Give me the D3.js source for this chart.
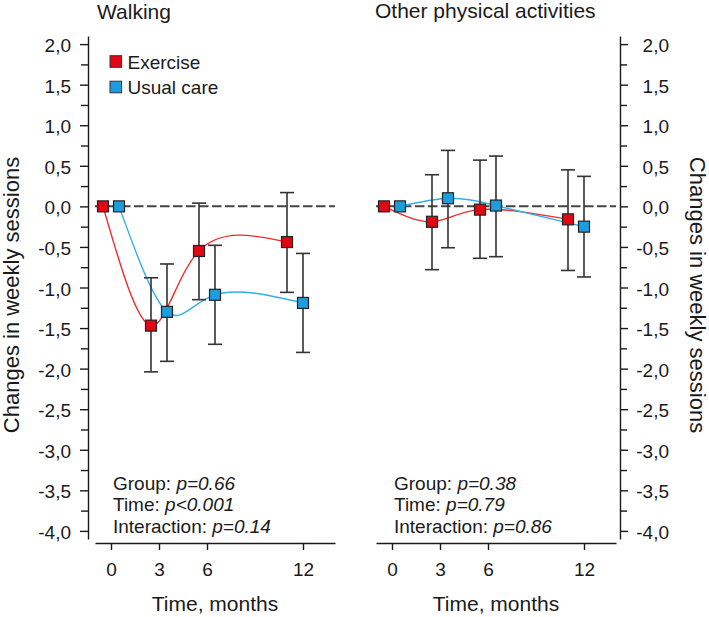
<!DOCTYPE html>
<html>
<head>
<meta charset="utf-8">
<script src="https://cdn.jsdelivr.net/npm/d3@7"></script>
<style>
  html, body { margin: 0; padding: 0; background: #fff; }
  svg { display: block; font-family: "Liberation Sans", Arial, sans-serif; }
</style>
</head>
<body>
<div id="chart"></div>
<script>
// ---------------- data ----------------
const monthTicks = [0, 3, 6, 12];
const exerciseTime = [-0.5, 2.5, 5.5, 11];   // plotted (dodged) time, months
const usualTime = [0.5, 3.5, 6.5, 12];

const walkingExercise   = [0, -1.47, -0.55, -0.44];
const walkingExerciseLo = [null, -2.04, -1.15, -1.06];
const walkingExerciseHi = [null, -0.88, 0.04, 0.17];
const walkingUsual      = [0, -1.30, -1.09, -1.19];
const walkingUsualLo    = [null, -1.91, -1.70, -1.80];
const walkingUsualHi    = [null, -0.71, -0.48, -0.58];

const otherExercise   = [0, -0.19, -0.04, -0.16];
const otherExerciseLo = [null, -0.78, -0.64, -0.79];
const otherExerciseHi = [null, 0.39, 0.57, 0.45];
const otherUsual      = [0, 0.10, 0.01, -0.25];
const otherUsualLo    = [null, -0.51, -0.62, -0.87];
const otherUsualHi    = [null, 0.69, 0.62, 0.37];

const yTickValues = [2.0, 1.5, 1.0, 0.5, 0.0, -0.5, -1.0, -1.5, -2.0, -2.5, -3.0, -3.5, -4.0];
const yMinorValues = [1.75, 1.25, 0.75, 0.25, -0.25, -0.75, -1.25, -1.75, -2.25, -2.75, -3.25, -3.75];

const seriesNames = ["Exercise", "Usual care"];
const panelTitles = ["Walking", "Other physical activities"];
const walkingStats = [["Group: ", "p=0.66"], ["Time: ", "p<0.001"], ["Interaction: ", "p=0.14"]];
const otherStats = [["Group: ", "p=0.38"], ["Time: ", "p=0.79"], ["Interaction: ", "p=0.86"]];
const xTitle = "Time, months";
const yTitle = "Changes in weekly sessions";

// ---------------- styles ----------------
const W = 709, H = 617;
const redFill = "#e30613", blueFill = "#1b9de0";
const redLine = "#ee2b2b", blueLine = "#33aee6";
const ink = "#1a1a1a";

const svg = d3.select("#chart").append("svg").attr("width", W).attr("height", H);

const y = d3.scaleLinear().domain([-4.1, 2.1]).range([539, 36]);
const fmt = d => d3.format(".1f")(d).replace(".", ",").replace("−", "-");

const panels = [
  { title: panelTitles[0], titleY: 19, x: d3.scaleLinear().domain([-1, 14]).range([95, 335]),
    axisX: 88, side: "left", stats: walkingStats, statsX: 113,
    series: [
      { t: exerciseTime, v: walkingExercise, lo: walkingExerciseLo, hi: walkingExerciseHi, fill: redFill, line: redLine },
      { t: usualTime, v: walkingUsual, lo: walkingUsualLo, hi: walkingUsualHi, fill: blueFill, line: blueLine }
    ] },
  { title: panelTitles[1], titleY: 18, x: d3.scaleLinear().domain([-1, 14]).range([376, 616]),
    axisX: 620, side: "right", stats: otherStats, statsX: 394,
    series: [
      { t: exerciseTime, v: otherExercise, lo: otherExerciseLo, hi: otherExerciseHi, fill: redFill, line: redLine },
      { t: usualTime, v: otherUsual, lo: otherUsualLo, hi: otherUsualHi, fill: blueFill, line: blueLine }
    ] }
];

panels.forEach(p => {
  const g = svg.append("g");
  const x = p.x;

  // title
  g.append("text").attr("x", x.range()[0] + (p.side === "left" ? 2 : -1)).attr("y", p.titleY)
    .attr("font-size", 21).attr("fill", ink).text(p.title);

  // x axis
  const xa = g.append("g").attr("transform", "translate(0,543)")
    .call(d3.axisBottom(x).tickValues(monthTicks).tickSize(7).tickSizeOuter(0).tickPadding(13));
  xa.select(".domain").attr("stroke", ink).attr("stroke-width", 1.4);
  xa.selectAll(".tick line").attr("stroke", ink).attr("stroke-width", 1.4);
  xa.selectAll(".tick text").attr("font-size", 19).attr("fill", ink).attr("font-family", null);

  g.append("text").attr("x", (x.range()[0] + x.range()[1]) / 2).attr("y", 611)
    .attr("text-anchor", "middle").attr("font-size", 21).attr("fill", ink).text(xTitle);

  // y axis
  const isLeft = p.side === "left";
  const yAxis = (isLeft ? d3.axisLeft(y) : d3.axisRight(y))
    .tickValues(yTickValues).tickFormat(fmt).tickSize(8).tickSizeOuter(0).tickPadding(9);
  const ya = g.append("g").attr("transform", `translate(${p.axisX},0)`).call(yAxis);
  ya.select(".domain").attr("stroke", ink).attr("stroke-width", 1.4);
  ya.selectAll(".tick line").attr("stroke", ink).attr("stroke-width", 1.4);
  ya.selectAll(".tick text").attr("font-size", 19).attr("fill", ink).attr("font-family", null)
    .attr("dy", "0.4em");
  if (!isLeft) ya.selectAll(".tick text").attr("text-anchor", "end").attr("x", 49);

  const yMinor = (isLeft ? d3.axisLeft(y) : d3.axisRight(y))
    .tickValues(yMinorValues).tickFormat("").tickSize(7).tickSizeOuter(0);
  const ym = g.append("g").attr("transform", `translate(${p.axisX},0)`).call(yMinor);
  ym.select(".domain").remove();
  ym.selectAll(".tick line").attr("stroke", ink).attr("stroke-width", 1.4);

  if (isLeft) {
    g.append("text").attr("transform", `translate(18.5,295) rotate(-90)`)
      .attr("text-anchor", "middle").attr("font-size", 22).attr("fill", ink).text(yTitle);
  } else {
    g.append("text").attr("transform", `translate(690,295) rotate(90)`)
      .attr("text-anchor", "middle").attr("font-size", 22).attr("fill", ink).text(yTitle);
  }

  // zero line
  g.append("line").attr("x1", x.range()[0]).attr("x2", x.range()[1])
    .attr("y1", y(0)).attr("y2", y(0))
    .attr("stroke", "#444").attr("stroke-width", 2).attr("stroke-dasharray", "9.5,3.5");

  // curves
  p.series.forEach(s => {
    const pts = s.t.map((t, i) => [t, s.v[i]]);
    g.append("path").datum(pts)
      .attr("d", d3.line().x(d => x(d[0])).y(d => y(d[1])).curve(d3.curveNatural))
      .attr("fill", "none").attr("stroke", s.line).attr("stroke-width", 1.4);
  });

  // error bars + markers
  p.series.forEach(s => {
    const idx = d3.range(s.t.length).filter(i => s.lo[i] !== null);
    const eb = g.append("g").attr("stroke", "#333").attr("stroke-width", 1.6);
    idx.forEach(i => {
      const cx = x(s.t[i]);
      eb.append("line").attr("x1", cx).attr("x2", cx).attr("y1", y(s.hi[i])).attr("y2", y(s.lo[i]));
      eb.append("line").attr("x1", cx - 7).attr("x2", cx + 7).attr("y1", y(s.hi[i])).attr("y2", y(s.hi[i]));
      eb.append("line").attr("x1", cx - 7).attr("x2", cx + 7).attr("y1", y(s.lo[i])).attr("y2", y(s.lo[i]));
    });
  });
  p.series.forEach(s => {
    g.selectAll(null).data(s.t.map((t, i) => [t, s.v[i]])).enter().append("rect")
      .attr("x", d => x(d[0]) - 5.5).attr("y", d => y(d[1]) - 5.5)
      .attr("width", 11).attr("height", 11)
      .attr("fill", s.fill).attr("stroke", "#222").attr("stroke-width", 1.2);
  });

  // stats text
  p.stats.forEach((row, i) => {
    const t = g.append("text").attr("x", p.statsX).attr("y", 489.5 + i * 21.7)
      .attr("font-size", 19).attr("fill", ink);
    t.append("tspan").text(row[0]);
    t.append("tspan").attr("font-style", "italic").text(row[1]);
  });
});

// legend
const legendFills = [redFill, blueFill];
const leg = svg.append("g");
seriesNames.forEach((name, i) => {
  const cy = 61.5 + i * 25.5;
  leg.append("rect").attr("x", 110).attr("y", cy - 5.8).attr("width", 11.6).attr("height", 11.6)
    .attr("fill", legendFills[i]).attr("stroke", "#333").attr("stroke-width", 1);
  leg.append("text").attr("x", 127.5).attr("y", cy + 7.3).attr("font-size", 19).attr("fill", ink).text(name);
});
</script>
</body>
</html>
